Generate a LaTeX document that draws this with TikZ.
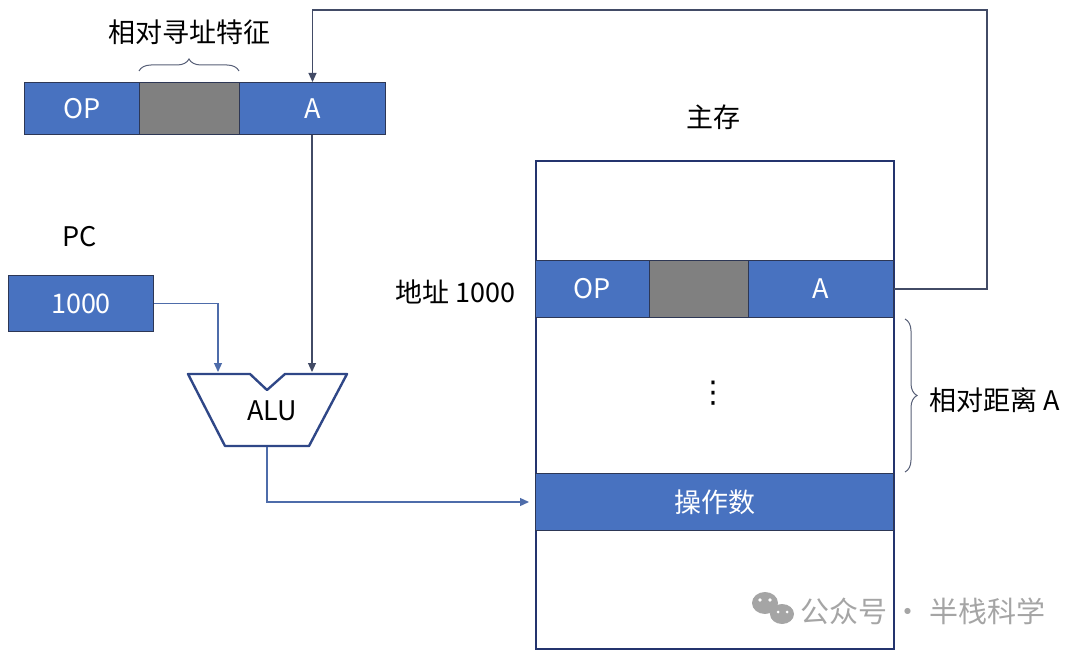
\documentclass[tikz,border=0pt]{standalone}
\usepackage{fontspec}
\setmainfont{Noto Sans CJK SC}
\newfontfamily\dejavu{DejaVu Sans}
\usetikzlibrary{arrows.meta,decorations.pathreplacing,calc}
\definecolor{fblue}{RGB}{72,114,192}
\definecolor{fgray}{RGB}{128,128,128}
\definecolor{fedge}{RGB}{45,55,85}
\definecolor{navy}{RGB}{36,52,110}
\definecolor{lblue}{RGB}{78,108,170}
\definecolor{wm}{RGB}{165,165,165}
\begin{document}
\begin{tikzpicture}[x=1pt,y=-1pt,
  every node/.style={font=\fontsize{27}{32}\selectfont, inner sep=0pt},
  field/.style={draw=fedge, line width=1pt, fill=fblue, text=white, anchor=north west},
  gfield/.style={draw=fedge, line width=1pt, fill=fgray, anchor=north west},
  conn/.style={line width=1.3pt, -{Triangle[length=9pt,width=8pt]}},
  brc/.style={draw=fedge!80, line width=1pt, decorate, decoration={brace, amplitude=12pt}}]
\useasboundingbox (0,0) rectangle (1080,655);
% instruction
\node[field, minimum width=115pt, minimum height=52pt] (iop) at (24,82) {OP};
\node[gfield, minimum width=100pt, minimum height=52pt] (ig) at (139,82) {};
\node[field, minimum width=146pt, minimum height=52pt] (ia) at (239,82) {A};
\draw[brc] (139,71) -- (239,71);
\node (lbl1) at (189,32) {相对寻址特征};
% PC
\node (pcl) at (80,237) {PC};
\node[field, minimum width=145pt, minimum height=56pt] (pc) at (8,275) {1000};
% ALU
\coordinate (a1) at (188,374);
\coordinate (a2) at (250,374);
\coordinate (a3) at (267,390);
\coordinate (a4) at (285,374);
\coordinate (a5) at (347,374);
\coordinate (a6) at (309,446);
\coordinate (a7) at (225,446);
\draw[navy!70!fblue, line width=2.4pt, line join=round] (a1) -- (a2) -- (a3) -- (a4) -- (a5) -- (a6) -- (a7) -- cycle;
\node (alu) at (272,411) {ALU};
\coordinate (inL) at (218,372);
\coordinate (inR) at (312,372);
\coordinate (aout) at (267,447);
% memory
\node[draw=navy, line width=2.4pt, minimum width=358pt, minimum height=488pt, anchor=north west] (mem) at (535,160) {};
\node (mt) at (713,117) {主存};
\node[field, minimum width=114pt, minimum height=57pt] (mop) at (535,260) {OP};
\node[gfield, minimum width=99pt, minimum height=57pt] (mg) at (649,260) {};
\node[field, minimum width=145pt, minimum height=57pt] (ma) at (748,260) {A};
\node[anchor=east] (addr) at (516,292) {地址 1000};
\node (dots) at (713,393) {\dejavu\fontsize{30}{32}\selectfont ⋮};
\node[field, minimum width=358pt, minimum height=57pt] (opnd) at (535,473) {操作数};
\draw[brc] (905,319) -- (905,472);
\node[anchor=west] (dist) at (929,400) {相对距离 A};
% connectors
\coordinate (c1) at (987,10);
\draw[conn, draw=fedge!90, line width=1.1pt] (ma.east) -| (c1) -| (ia.north);
\draw[conn, draw=fedge!90, line width=1.1pt] (ia.south -| inR) -- (inR);
\draw[conn, draw=lblue] (pc.east) -| (inL);
\draw[conn, draw=lblue, shorten >=6pt] (aout) |- (opnd.west);
% watermark
\fill[wm] (765,603) ellipse (13pt and 11pt);
\fill[wm] (782,614) ellipse (12pt and 10pt);
\fill[white] (760,600) circle (1.8pt) (770,600) circle (1.8pt) (778,612) circle (1.5pt) (787,612) circle (1.5pt);
\node[text=wm, anchor=west, font=\fontsize{29}{32}\selectfont] (wmt) at (800,611) {公众号 · 半栈科学};
\end{tikzpicture}
\end{document}
